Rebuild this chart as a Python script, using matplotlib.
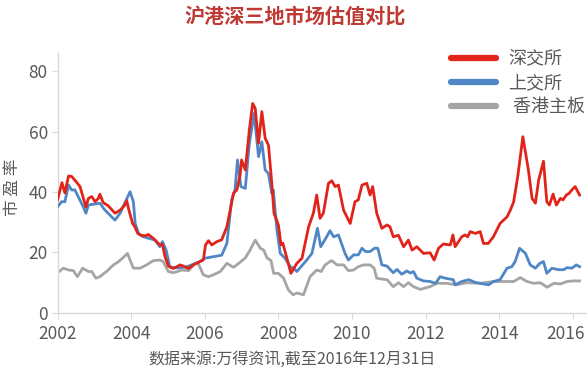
import matplotlib
matplotlib.use('Agg')
import matplotlib.pyplot as plt
import matplotlib.transforms as mtransforms

plt.rcParams['font.family'] = ['Noto Sans CJK SC', 'DejaVu Sans']

TITLE = '沪港深三地市场估值对比'
SOURCE = '数据来源:万得资讯,截至2016年12月31日'
YLABEL = '市 盈 率'
LABELS = ['深交所', '上交所', ' 香港主板']
COLORS = ['#E2231A', '#4F86C6', '#A5A5A5']

X_TICKS = [2002, 2004, 2006, 2008, 2010, 2012, 2014, 2016]
Y_TICKS = [0, 20, 40, 60, 80]

# 深交所 PE
SZ_YEAR = [2002.00, 2002.12, 2002.20, 2002.30, 2002.38, 2002.50, 2002.61, 2002.77, 2002.84, 2002.93,
           2003.02, 2003.11, 2003.15, 2003.24, 2003.38, 2003.56, 2003.70, 2003.83, 2003.88, 2003.95,
           2004.04, 2004.10, 2004.18, 2004.28, 2004.42, 2004.46, 2004.60, 2004.69, 2004.78, 2004.85,
           2004.92, 2005.01, 2005.15, 2005.33, 2005.42, 2005.56, 2005.69, 2005.87, 2005.96, 2006.02,
           2006.10, 2006.19, 2006.33, 2006.46, 2006.60, 2006.69, 2006.78, 2006.87, 2006.96, 2007.00,
           2007.10, 2007.21, 2007.30, 2007.37, 2007.46, 2007.55, 2007.64, 2007.73, 2007.82, 2007.88,
           2008.00, 2008.07, 2008.12, 2008.23, 2008.34, 2008.50, 2008.64, 2008.82, 2008.95, 2009.04,
           2009.13, 2009.22, 2009.36, 2009.45, 2009.54, 2009.63, 2009.77, 2009.95, 2010.08, 2010.17,
           2010.27, 2010.40, 2010.49, 2010.56, 2010.67, 2010.81, 2010.95, 2011.03, 2011.12, 2011.26,
           2011.40, 2011.53, 2011.63, 2011.76, 2011.94, 2012.12, 2012.23, 2012.35, 2012.48, 2012.67,
           2012.74, 2012.80, 2012.98, 2013.07, 2013.14, 2013.21, 2013.35, 2013.48, 2013.57, 2013.70,
           2013.84, 2014.02, 2014.21, 2014.30, 2014.39, 2014.50, 2014.64, 2014.79, 2014.89, 2014.98,
           2015.07, 2015.20, 2015.29, 2015.36, 2015.46, 2015.55, 2015.66, 2015.73, 2015.82, 2015.90,
           2015.97, 2016.06, 2016.18]
SZ_PE = [37.4, 43.1, 39.7, 45.3, 45.2, 43.5, 41.8, 35.1, 37.9, 38.5,
         36.8, 37.9, 39.3, 36.5, 35.4, 33.0, 34.0, 35.7, 37.1, 33.5,
         29.6, 28.5, 26.3, 25.6, 25.6, 26.0, 24.7, 23.6, 22.5, 22.7,
         18.6, 15.5, 14.7, 15.9, 15.5, 14.7, 15.9, 17.0, 17.5, 22.5,
         23.9, 22.5, 23.6, 24.2, 28.5, 34.0, 39.6, 40.7, 45.6, 50.6,
         47.3, 60.5, 69.3, 67.7, 56.1, 66.6, 57.8, 55.5, 42.9, 33.0,
         29.1, 22.5, 23.1, 18.1, 13.1, 16.4, 18.1, 28.5, 33.0, 39.0,
         31.3, 33.0, 42.9, 43.7, 41.8, 42.3, 34.0, 29.6, 36.8, 37.4,
         42.3, 42.9, 39.0, 41.8, 33.0, 28.0, 29.1, 28.5, 25.2, 25.7,
         21.9, 24.1, 20.8, 21.9, 19.7, 19.9, 17.5, 21.4, 22.8, 22.5,
         25.8, 21.9, 25.2, 25.8, 25.2, 26.9, 26.3, 26.9, 23.0, 23.0,
         25.2, 29.6, 31.8, 34.0, 36.8, 45.1, 58.3, 47.3, 37.9, 36.3,
         44.0, 50.2, 36.8, 35.7, 39.3, 35.7, 37.9, 37.4, 39.0, 39.6,
         40.7, 41.8, 39.0]

# 上交所 PE
SH_YEAR = [2002.00, 2002.11, 2002.20, 2002.30, 2002.38, 2002.47, 2002.70, 2002.77, 2002.84, 2003.15,
           2003.29, 2003.56, 2003.70, 2003.97, 2004.06, 2004.11, 2004.20, 2004.33, 2004.50, 2004.65,
           2004.78, 2004.85, 2004.95, 2005.05, 2005.25, 2005.50, 2005.87, 2006.00, 2006.23, 2006.46,
           2006.60, 2006.73, 2006.82, 2006.89, 2006.98, 2007.10, 2007.21, 2007.34, 2007.46, 2007.55,
           2007.64, 2007.73, 2007.82, 2007.86, 2007.96, 2008.05, 2008.18, 2008.32, 2008.42, 2008.50,
           2008.77, 2008.91, 2009.06, 2009.15, 2009.31, 2009.40, 2009.50, 2009.63, 2009.81, 2009.90,
           2010.04, 2010.17, 2010.27, 2010.37, 2010.49, 2010.61, 2010.70, 2010.81, 2010.95, 2011.12,
           2011.22, 2011.35, 2011.49, 2011.58, 2011.67, 2011.76, 2011.94, 2012.12, 2012.27, 2012.39,
           2012.53, 2012.75, 2012.80, 2012.98, 2013.17, 2013.35, 2013.48, 2013.71, 2013.84, 2014.02,
           2014.21, 2014.34, 2014.43, 2014.55, 2014.71, 2014.84, 2014.98, 2015.10, 2015.20, 2015.29,
           2015.43, 2015.61, 2015.75, 2015.84, 2015.97, 2016.09, 2016.18]
SH_PE = [35.1, 36.8, 36.8, 42.3, 40.7, 40.7, 35.1, 33.0, 35.7, 36.3,
         34.0, 30.7, 33.0, 40.1, 36.8, 29.6, 26.3, 25.2, 24.6, 24.1,
         21.9, 23.6, 20.8, 15.2, 14.9, 15.2, 17.0, 18.1, 18.6, 19.1,
         23.0, 37.4, 40.7, 50.6, 41.8, 41.2, 56.1, 66.0, 51.7, 56.6,
         47.3, 46.1, 39.6, 40.7, 27.4, 19.7, 18.1, 15.3, 14.7, 13.7,
         17.5, 19.7, 28.0, 21.9, 25.2, 27.2, 25.2, 25.8, 19.7, 17.5,
         19.2, 19.2, 21.4, 20.3, 20.3, 21.4, 21.4, 15.9, 15.5, 13.3,
         14.4, 12.8, 13.9, 13.2, 13.7, 11.5, 10.6, 10.4, 9.8, 12.0,
         11.5, 11.0, 9.3, 10.4, 11.0, 10.1, 9.8, 9.3, 10.4, 11.0,
         14.8, 15.3, 17.0, 21.4, 19.7, 15.9, 14.8, 16.4, 17.0, 13.1,
         14.8, 14.3, 14.3, 15.0, 14.8, 15.9, 15.3]

# 香港主板 PE
HK_YEAR = [2002.00, 2002.16, 2002.30, 2002.43, 2002.54, 2002.68, 2002.84, 2002.93, 2003.04, 2003.15,
           2003.33, 2003.52, 2003.66, 2003.79, 2003.90, 2003.97, 2004.06, 2004.24, 2004.42, 2004.60,
           2004.78, 2004.87, 2005.01, 2005.15, 2005.38, 2005.56, 2005.74, 2005.83, 2005.96, 2006.10,
           2006.23, 2006.42, 2006.60, 2006.78, 2006.92, 2007.10, 2007.23, 2007.37, 2007.51, 2007.60,
           2007.69, 2007.80, 2007.87, 2008.00, 2008.14, 2008.27, 2008.40, 2008.50, 2008.68, 2008.86,
           2009.04, 2009.16, 2009.27, 2009.40, 2009.45, 2009.59, 2009.77, 2009.90, 2010.04, 2010.17,
           2010.31, 2010.49, 2010.60, 2010.67, 2010.81, 2010.95, 2011.12, 2011.26, 2011.40, 2011.53,
           2011.67, 2011.85, 2012.12, 2012.30, 2012.57, 2012.84, 2013.11, 2013.48, 2013.84, 2014.11,
           2014.39, 2014.57, 2014.75, 2014.93, 2015.11, 2015.30, 2015.48, 2015.66, 2015.84, 2016.02,
           2016.18]
HK_PE = [13.3, 14.8, 14.2, 14.0, 12.0, 14.8, 13.7, 13.7, 11.5, 12.0,
         13.7, 15.9, 17.0, 18.4, 19.7, 17.5, 14.8, 14.8, 15.9, 17.3,
         17.5, 17.0, 13.7, 13.3, 14.2, 14.0, 16.4, 16.2, 12.6, 12.0,
         12.6, 13.7, 16.4, 15.1, 16.4, 18.2, 20.8, 24.1, 21.4, 20.8,
         18.2, 17.3, 13.1, 13.1, 11.5, 7.6, 6.0, 6.6, 6.0, 12.0,
         14.2, 13.7, 15.9, 17.0, 17.3, 15.9, 15.9, 14.0, 14.2, 15.3,
         15.9, 15.9, 14.8, 11.5, 11.2, 11.0, 8.7, 10.0, 8.7, 10.0,
         8.7, 7.8, 8.7, 9.8, 9.8, 9.3, 10.0, 9.8, 10.4, 10.4,
         10.4, 11.7, 10.4, 9.8, 10.0, 8.5, 9.8, 9.6, 10.4, 10.6,
         10.6]


def main():
    fig = plt.figure(figsize=(5.87, 3.73), dpi=100)
    ax = fig.add_axes([0.098, 0.161, 0.9, 0.697])

    # grey first so red sits on top, like the original
    ax.plot(HK_YEAR, HK_PE, color=COLORS[2], lw=2.0, zorder=2)
    ax.plot(SH_YEAR, SH_PE, color=COLORS[1], lw=2.0, zorder=3)
    ax.plot(SZ_YEAR, SZ_PE, color=COLORS[0], lw=2.0, zorder=4)

    ax.set_xlim(2002, 2016.35)
    ax.set_ylim(0, 86)
    ax.set_xticks(X_TICKS)
    ax.set_yticks(Y_TICKS)
    ax.tick_params(axis='both', colors='#d9d9d9', labelcolor='#595959', labelsize=12.5, length=4)
    ax.tick_params(axis='x', pad=5)
    ax.tick_params(axis='y', pad=3)

    # last year label sits at the right edge, nudge it in a bit
    last = ax.get_xticklabels()[-1]
    last.set_transform(last.get_transform() + mtransforms.ScaledTranslation(-5 / 72, 0, fig.dpi_scale_trans))

    for side in ['top', 'right']:
        ax.spines[side].set_visible(False)
    for side in ['left', 'bottom']:
        ax.spines[side].set_color('#d9d9d9')
        ax.spines[side].set_linewidth(1.0)

    fig.text(0.021, 0.497, YLABEL, rotation=90, ha='center', va='center', fontsize=12, color='#595959')
    fig.text(0.503, 0.955, TITLE, ha='center', va='center', fontsize=14.5, fontweight='bold', color='#BE3A34')
    fig.text(0.498, 0.035, SOURCE, ha='center', va='center', fontsize=11.5, color='#595959')

    handles = [plt.Line2D([], [], color=c, lw=4.5, solid_capstyle='round') for c in COLORS]
    leg = fig.legend(handles, LABELS, loc='upper left', bbox_to_anchor=(0.768, 0.866), frameon=False,
                     fontsize=13, handlelength=2.5, handletextpad=0.7, labelspacing=0.33,
                     borderpad=0, borderaxespad=0)
    for t in leg.get_texts():
        t.set_color('#595959')

    plt.savefig('out.png', dpi=100)


if __name__ == '__main__':
    main()
